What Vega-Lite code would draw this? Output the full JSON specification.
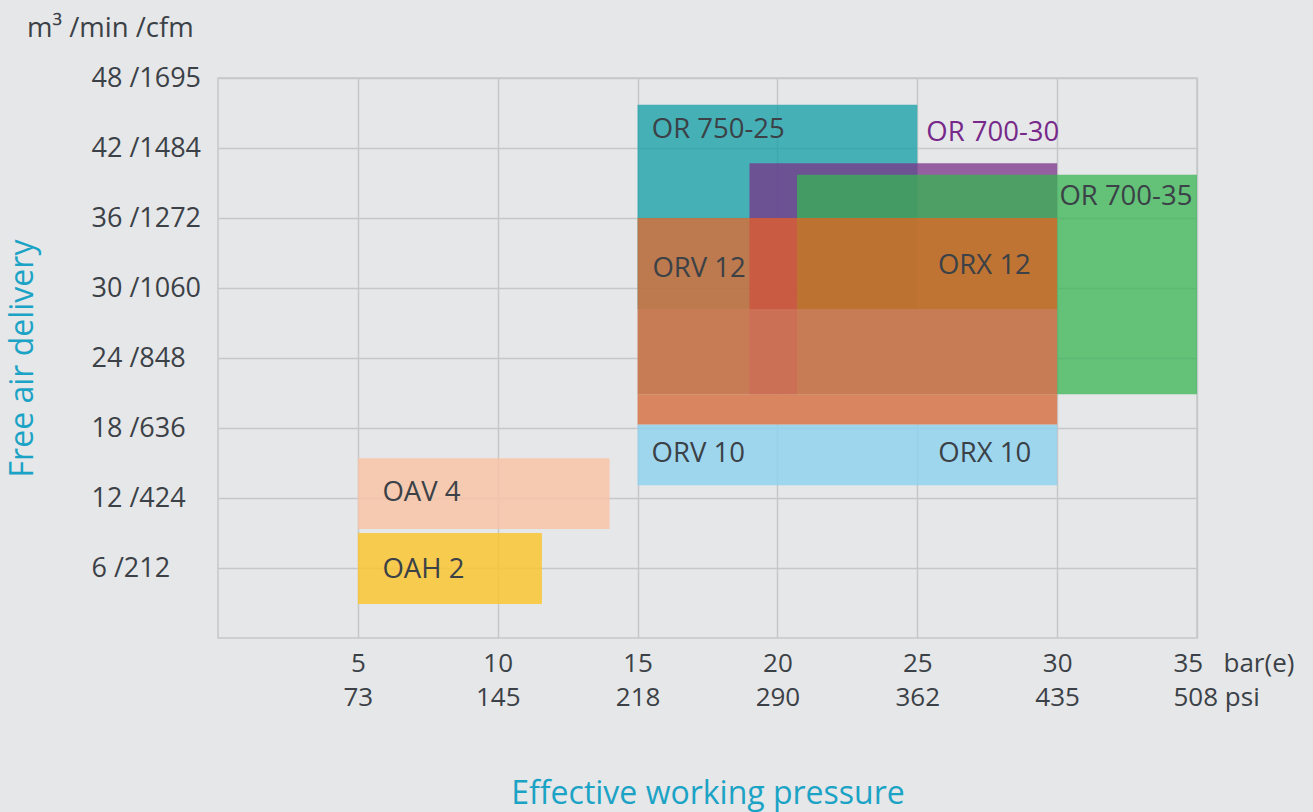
{
  "$schema": "https://vega.github.io/schema/vega-lite/v6.json",
  "width": 979,
  "height": 560,
  "autosize": {"type": "none"},
  "padding": {"left": 218, "top": 78, "right": 116, "bottom": 174},
  "background": "#e6e7e8",
  "config": {
    "font": "Open Sans",
    "view": {"stroke": "#c6c7c9", "strokeWidth": 1.5},
    "axis": {"labelLineHeight": 34}
  },
  "title": {
    "text": "m³ /min /cfm",
    "anchor": "start",
    "frame": "group",
    "dx": -191,
    "dy": 29,
    "offset": 29,
    "baseline": "alphabetic",
    "fontSize": 27.5,
    "fontWeight": "normal",
    "font": "Open Sans",
    "color": "#3b4147"
  },
  "datasets": {
    "blocks": [
      {"part": "OR 750-25", "x0": 15, "x1": 25, "y0": 28.2, "y1": 45.7},
      {"part": "OR 700-30", "x0": 19, "x1": 30, "y0": 28.2, "y1": 40.7},
      {"part": "OR 700-35", "x0": 20.7, "x1": 35, "y0": 20.9, "y1": 39.7},
      {"part": "ORV 10 / ORX 10", "x0": 15, "x1": 30, "y0": 13.1, "y1": 18.3},
      {"part": "ORV 12 / ORX 12 lower", "x0": 15, "x1": 30, "y0": 18.3, "y1": 20.9},
      {"part": "ORV 12 / ORX 12 middle", "x0": 15, "x1": 30, "y0": 20.9, "y1": 28.2},
      {"part": "ORV 12 / ORX 12 middle, OR 700-30", "x0": 19, "x1": 20.7, "y0": 20.9, "y1": 28.2},
      {"part": "ORV 12 / ORX 12 upper", "x0": 15, "x1": 30, "y0": 28.2, "y1": 36},
      {"part": "OAV 4", "x0": 5, "x1": 14, "y0": 9.35, "y1": 15.4},
      {"part": "OAH 2", "x0": 5, "x1": 11.58, "y0": 2.92, "y1": 9.0}
    ],
    "labels": [
      {"label": "OR 750-25", "lx": 15.51, "ly": 43.57},
      {"label": "OR 700-30", "lx": 25.32, "ly": 43.29},
      {"label": "OR 700-35", "lx": 30.08, "ly": 37.8},
      {"label": "ORV 12", "lx": 15.53, "ly": 31.62},
      {"label": "ORX 12", "lx": 25.74, "ly": 31.88},
      {"label": "ORV 10", "lx": 15.5, "ly": 15.75},
      {"label": "ORX 10", "lx": 25.75, "ly": 15.75},
      {"label": "OAV 4", "lx": 5.88, "ly": 12.41},
      {"label": "OAH 2", "lx": 5.88, "ly": 5.8}
    ]
  },
  "layer": [
    {
      "data": {"name": "blocks"},
      "mark": {"type": "rect"},
      "encoding": {
        "x": {
          "field": "x0",
          "type": "quantitative",
          "scale": {"domain": [0, 35], "nice": false, "zero": false},
          "title": "Effective working pressure",
          "axis": {
            "values": [5, 10, 15, 20, 25, 30, 35],
            "labelExpr": "datum.value == 35 ? ['35\u00a0\u00a0\u00a0bar(e)', '508\u00a0psi'] : [datum.label, ['73','145','218','290','362','435'][datum.value/5 - 1]]",
            "labelAlign": {"condition": {"test": "datum.value == 35", "value": "left"}, "value": "center"},
            "labelOffset": {"condition": {"test": "datum.value == 35", "value": -24}, "value": 0},
            "labelFlush": false,
            "labelOverlap": false,
            "labelBaseline": "top",
            "labelPadding": 12,
            "labelFontSize": 26,
            "labelFont": "Open Sans",
            "labelColor": "#3b4147",
            "labelLineHeight": 34,
            "ticks": false,
            "domain": false,
            "grid": true,
            "gridColor": "#c6c7c9",
            "gridWidth": 1.5,
            "titleFont": "Open Sans",
            "titleFontSize": 32,
            "titleFontWeight": "normal",
            "titleColor": "#1ba3c6",
            "titlePadding": 68
          }
        },
        "x2": {"field": "x1"},
        "y": {
          "field": "y0",
          "type": "quantitative",
          "scale": {"domain": [0, 48], "nice": false, "zero": false},
          "title": "Free air delivery",
          "axis": {
            "values": [6, 12, 18, 24, 30, 36, 42, 48],
            "labelExpr": "datum.label + ' /' + ['212','424','636','848','1060','1272','1484','1695'][datum.value/6 - 1]",
            "labelAlign": "left",
            "labelBaseline": "middle",
            "labelPadding": 127,
            "labelOverlap": false,
            "labelFontSize": 27,
            "labelFont": "Open Sans",
            "labelColor": "#3b4147",
            "ticks": false,
            "domain": false,
            "grid": true,
            "gridColor": "#c6c7c9",
            "gridWidth": 1.5,
            "titleFont": "Open Sans",
            "titleFontSize": 32,
            "titleFontWeight": "normal",
            "titleColor": "#1ba3c6",
            "titlePadding": 52
          }
        },
        "y2": {"field": "y1"},
        "color": {
          "field": "part",
          "type": "nominal",
          "legend": null,
          "scale": {
            "domain": ["OR 750-25", "OR 700-30", "OR 700-35", "ORV 10 / ORX 10", "ORV 12 / ORX 12 lower", "ORV 12 / ORX 12 middle", "ORV 12 / ORX 12 middle, OR 700-30", "ORV 12 / ORX 12 upper", "OAV 4", "OAH 2"],
            "range": ["#0f9ea4", "#793388", "#37b453", "#90d2ef", "#d98660", "#c87c55", "#cc7055", "#f85f1b", "#f8c4a7", "#f8c632"]
          }
        },
        "opacity": {
          "field": "part",
          "type": "nominal",
          "legend": null,
          "scale": {
            "type": "ordinal",
            "domain": ["OR 750-25", "OR 700-30", "OR 700-35", "ORV 10 / ORX 10", "ORV 12 / ORX 12 lower", "ORV 12 / ORX 12 middle", "ORV 12 / ORX 12 middle, OR 700-30", "ORV 12 / ORX 12 upper", "OAV 4", "OAH 2"],
            "range": [0.75, 0.75, 0.75, 0.85, 1, 1, 1, 0.67, 0.85, 0.85]
          }
        }
      }
    },
    {
      "data": {"name": "labels"},
      "mark": {"type": "text", "align": "left", "baseline": "middle", "fontSize": 27.5, "font": "Open Sans"},
      "encoding": {
        "x": {"field": "lx", "type": "quantitative", "scale": {"domain": [0, 35], "nice": false, "zero": false}, "title": "Effective working pressure"},
        "y": {"field": "ly", "type": "quantitative", "scale": {"domain": [0, 48], "nice": false, "zero": false}, "title": "Free air delivery"},
        "text": {"field": "label"},
        "color": {"condition": {"test": "datum.label === 'OR 700-30'", "value": "#76298a"}, "value": "#3b4147"}
      }
    }
  ]
}
